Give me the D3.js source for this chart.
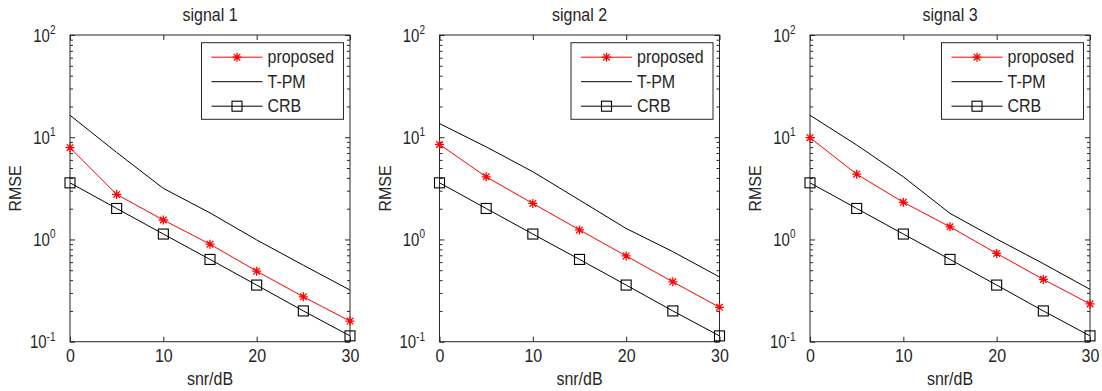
<!DOCTYPE html>
<html>
<head>
<meta charset="utf-8">
<script src="https://cdn.jsdelivr.net/npm/d3@7"></script>
<style>
  body { margin: 0; background: #fff; }
  text { font-family: "Liberation Sans", Arial, Helvetica, sans-serif; }
</style>
</head>
<body>
<svg id="chart" width="1102" height="391"></svg>
<script>
// SNR grid (dB) shared by every panel
const snr = [0, 5, 10, 15, 20, 25, 30];

// RMSE per signal
const proposed1 = [7.9, 2.76, 1.55, 0.90, 0.49, 0.275, 0.159];
const tpm1      = [16.4, 7.1, 3.16, 1.82, 0.99, 0.56, 0.32];
const crb1      = [3.58, 2.01, 1.13, 0.638, 0.358, 0.20, 0.114];

const proposed2 = [8.5, 4.1, 2.25, 1.24, 0.69, 0.385, 0.217];
const tpm2      = [13.6, 8.05, 4.6, 2.43, 1.28, 0.76, 0.43];
const crb2      = [3.58, 2.01, 1.13, 0.638, 0.358, 0.20, 0.114];

const proposed3 = [9.9, 4.35, 2.31, 1.33, 0.73, 0.407, 0.234];
const tpm3      = [16.4, 8.4, 4.1, 1.80, 1.01, 0.58, 0.325];
const crb3      = [3.58, 2.01, 1.13, 0.638, 0.358, 0.20, 0.114];

const panelTitles = ["signal 1", "signal 2", "signal 3"];
const seriesNames = ["proposed", "T-PM", "CRB"];
const xTicks = [0, 10, 20, 30];
const yTicks = [0.1, 1, 10, 100];
const xLabel = "snr/dB";
const yLabel = "RMSE";

const panels = [
  { title: panelTitles[0], proposed: proposed1, tpm: tpm1, crb: crb1 },
  { title: panelTitles[1], proposed: proposed2, tpm: tpm2, crb: crb2 },
  { title: panelTitles[2], proposed: proposed3, tpm: tpm3, crb: crb3 }
];

// layout
const panelLeft = [70, 439.5, 810];
const plotW = 280, plotTop = 35, plotBottom = 341.7;
const ink = "#262626";
const red = "#f00";
const fontSize = 16;

const svg = d3.select("#chart");

// minor log ticks 2..9 in each decade
const yMinor = [];
[0.1, 1, 10].forEach(dec => { for (let k = 2; k <= 9; k++) yMinor.push(k * dec); });

// tall, narrow glyphs like the MATLAB renderer
function stretch(sy) {
  return sel => sel.each(function () {
    const t = d3.select(this);
    const x = +t.attr("x") || 0, y = +t.attr("y") || 0;
    t.attr("x", null).attr("y", null)
     .attr("transform", `translate(${x},${y}) scale(1,${sy})`);
  });
}

const star = "M-4.5,0H4.5M0,-4.5V4.5M-3.3,-3.3L3.3,3.3M-3.3,3.3L3.3,-3.3";

panels.forEach((p, i) => {
  const left = panelLeft[i], right = left + plotW;
  const x = d3.scaleLinear().domain([0, 30]).range([left, right]);
  const y = d3.scaleLog().domain([0.1, 100]).range([plotBottom, plotTop]);

  const g = svg.append("g").attr("color", ink);

  // ticks (pointing inward)
  const noLbl = () => "";
  g.append("g").attr("transform", `translate(0,${plotBottom})`)
    .call(d3.axisBottom(x).tickValues(xTicks).tickSizeInner(-5).tickSizeOuter(0).tickPadding(7.5))
    .call(a => a.select(".domain").remove())
    .call(a => a.selectAll("text").attr("font-size", fontSize).attr("font-family", null).call(stretch(1.15)));
  g.append("g").attr("transform", `translate(0,${plotTop})`)
    .call(d3.axisTop(x).tickValues(xTicks).tickSizeInner(-5).tickSizeOuter(0).tickFormat(noLbl))
    .call(a => a.select(".domain").remove());

  g.append("g").attr("transform", `translate(${left},0)`)
    .call(d3.axisLeft(y).tickValues(yTicks).tickSizeInner(-5).tickSizeOuter(0).tickPadding(14.5).tickFormat(noLbl))
    .call(a => a.select(".domain").remove())
    .call(a => a.selectAll(".tick text").each(function (d) {
      const t = d3.select(this).attr("font-size", 15).attr("font-family", null);
      t.text(null);
      t.append("tspan").text("10");
      t.append("tspan").attr("dy", "-0.6em").attr("font-size", 10)
        .text(String(Math.round(Math.log10(d))));
    }).call(stretch(1.25)));
  g.append("g").attr("transform", `translate(${left},0)`)
    .call(d3.axisLeft(y).tickValues(yMinor).tickSizeInner(-3).tickSizeOuter(0).tickFormat(noLbl))
    .call(a => a.select(".domain").remove());
  g.append("g").attr("transform", `translate(${right},0)`)
    .call(d3.axisRight(y).tickValues(yTicks).tickSizeInner(-5).tickSizeOuter(0).tickFormat(noLbl))
    .call(a => a.select(".domain").remove());
  g.append("g").attr("transform", `translate(${right},0)`)
    .call(d3.axisRight(y).tickValues(yMinor).tickSizeInner(-3).tickSizeOuter(0).tickFormat(noLbl))
    .call(a => a.select(".domain").remove());

  // frame
  g.append("rect").attr("x", left).attr("y", plotTop)
    .attr("width", plotW).attr("height", plotBottom - plotTop)
    .attr("fill", "none").attr("stroke", ink).attr("stroke-width", 1);

  const line = d3.line().x((d, k) => x(snr[k])).y(d => y(d));

  // T-PM
  g.append("path").datum(p.tpm).attr("d", line)
    .attr("fill", "none").attr("stroke", "#000").attr("stroke-width", 1);

  // CRB with square markers
  g.append("path").datum(p.crb).attr("d", line)
    .attr("fill", "none").attr("stroke", "#000").attr("stroke-width", 1);
  g.selectAll(".sq").data(p.crb).join("rect")
    .attr("x", (d, k) => x(snr[k]) - 5).attr("y", d => y(d) - 5)
    .attr("width", 10).attr("height", 10)
    .attr("fill", "none").attr("stroke", "#000").attr("stroke-width", 1.1);

  // proposed with asterisk markers
  g.append("path").datum(p.proposed).attr("d", line)
    .attr("fill", "none").attr("stroke", red).attr("stroke-width", 1);
  g.selectAll(".st").data(p.proposed).join("path")
    .attr("transform", (d, k) => `translate(${x(snr[k])},${y(d)})`)
    .attr("d", star).attr("fill", "none").attr("stroke", red).attr("stroke-width", 1.3);

  // title
  g.append("text").attr("x", (left + right) / 2).attr("y", 21)
    .attr("text-anchor", "middle").attr("font-size", fontSize).attr("fill", ink)
    .text(p.title).call(stretch(1.12));

  // axis labels
  g.append("text").attr("x", (left + right) / 2).attr("y", 385)
    .attr("text-anchor", "middle").attr("font-size", fontSize).attr("fill", ink)
    .text(xLabel).call(stretch(1.12));
  g.append("text")
    .attr("transform", `translate(${left - 49},188.5) rotate(-90)`)
    .attr("text-anchor", "middle").attr("font-size", fontSize).attr("fill", ink)
    .text(yLabel);

  // legend
  const lw = 142, lh = 76.6, lx = right - 6.5 - lw, ly = 42.7;
  const lg = g.append("g").attr("transform", `translate(${lx},${ly})`);
  lg.append("rect").attr("width", lw).attr("height", lh)
    .attr("fill", "#fff").attr("stroke", ink).attr("stroke-width", 1);
  const rows = [14.5, 39, 63.5];
  seriesNames.forEach((name, r) => {
    const ry = rows[r];
    const col = r === 0 ? red : "#000";
    lg.append("line").attr("x1", 10).attr("x2", 61).attr("y1", ry).attr("y2", ry)
      .attr("stroke", col).attr("stroke-width", 1);
    if (r === 0) {
      lg.append("path").attr("transform", `translate(35.5,${ry})`).attr("d", star)
        .attr("fill", "none").attr("stroke", red).attr("stroke-width", 1.3);
    } else if (r === 2) {
      lg.append("rect").attr("x", 30.5).attr("y", ry - 5).attr("width", 10).attr("height", 10)
        .attr("fill", "none").attr("stroke", "#000").attr("stroke-width", 1.1);
    }
    lg.append("text").attr("x", 66).attr("y", ry + 6)
      .attr("font-size", fontSize).attr("fill", ink).text(name).call(stretch(1.12));
  });
});
</script>
</body>
</html>
